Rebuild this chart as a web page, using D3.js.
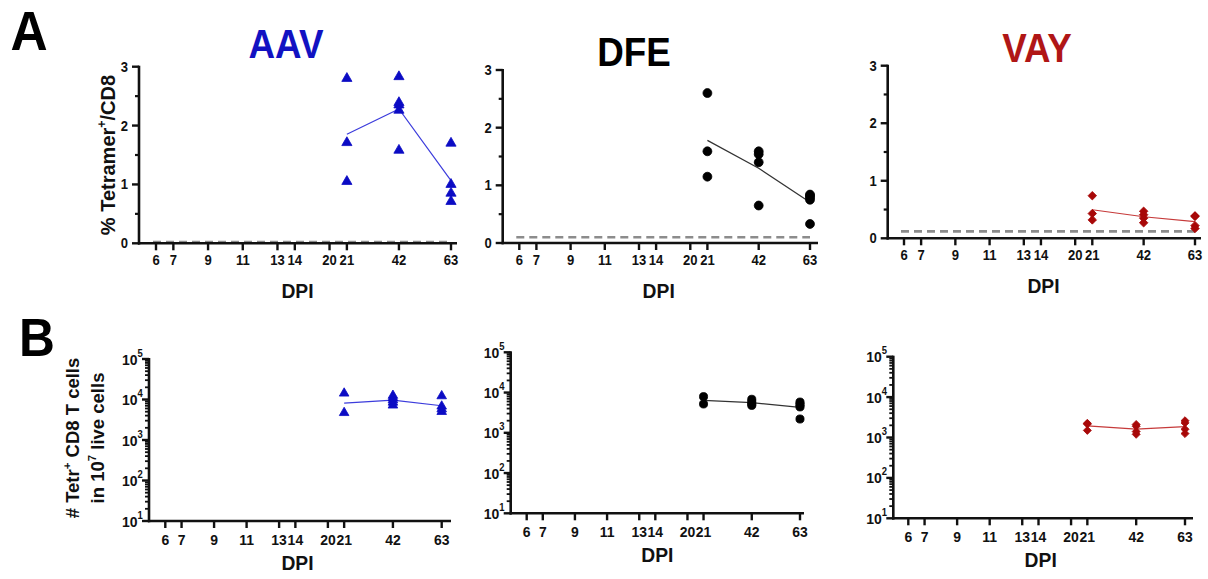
<!DOCTYPE html>
<html>
<head>
<meta charset="utf-8">
<script src="https://cdn.jsdelivr.net/npm/d3@7"></script>
<style>
body { margin: 0; background: #fff; }
text { font-family: "Liberation Sans", Arial, sans-serif; font-weight: bold; }
</style>
</head>
<body>
<svg id="fig" width="1208" height="579"></svg>
<script>
// tick labels on the DPI axis, and the days that were sampled
var days = [6, 7, 9, 11, 13, 14, 20, 21, 42, 63];
var sampleDays = [21, 42, 63];
var groups = ["AAV", "DFE", "VAY"];

// % Tetramer+/CD8, one list per sampled day
var aavPct = [[2.80, 1.71, 1.05], [2.83, 2.39, 2.35, 2.26, 1.58], [1.70, 1.00, 0.85, 0.71]];
var dfePct = [[2.60, 1.59, 1.15], [1.59, 1.54, 1.40, 0.65], [0.84, 0.82, 0.79, 0.75, 0.33]];
var vayPct = [[0.74, 0.43, 0.32], [0.47, 0.41, 0.35, 0.27], [0.39, 0.38, 0.22, 0.17]];
var pctBaseline = [0.02, 0.10, 0.12];

// # Tetr+ CD8 T cells in 10^7 live cells
var aavCount = [[14200, 4700], [12500, 11000, 9700, 8500, 7200], [12200, 6800, 5800, 5000]];
var dfeCount = [[7900, 5200], [6800, 5900, 5200, 4800], [5800, 5300, 4800, 4400, 2200]];
var vayCount = [[2250, 2150, 1500], [2100, 1900, 1400, 1200], [2600, 2300, 1600, 1250]];

var pctTicks = [0, 1, 2, 3];
var pctMinor = [0.5, 1.5, 2.5];
var logTicks = [1e1, 1e2, 1e3, 1e4, 1e5];

var svg = d3.select("#fig");

// spacing of the DPI ticks along the axis (in steps)
var daySteps = [0, 1, 3, 5, 7, 8, 10, 11, 14, 17];

function addText(g, x, y, s, size, opts) {
    opts = opts || {};
    var t = g.append("text")
        .attr("transform", "translate(" + x + "," + y + ")" + (opts.rot ? " rotate(" + opts.rot + ")" : "") + " scale(" + (opts.sx || 0.92) + ",1)")
        .attr("text-anchor", opts.anchor || "middle")
        .style("font-size", size + "px")
        .style("fill", opts.color || "#111");
    if (opts.sup) {
        t.append("tspan").text(s);
        t.append("tspan").attr("dy", -size * 0.45).style("font-size", (size * 0.62) + "px").text(opts.sup);
        if (opts.after) t.append("tspan").attr("dy", size * 0.45).text(opts.after);
    } else {
        t.text(s);
    }
    return t;
}

function drawPanel(p) {
    var g = svg.append("g");
    var step = (p.x63 - p.x6) / 17;
    var x = d3.scaleLinear().domain(days).range(daySteps.map(function (s) { return p.x6 + s * step; }));
    var y = p.log ? d3.scaleLog().domain([1e1, 1e5]).range([p.bottom, p.top])
                  : d3.scaleLinear().domain([0, 3]).range([p.bottom, p.top]);

    // dashed baseline (percent panels)
    if (p.base !== undefined) {
        g.append("line")
            .attr("x1", x(6) - 3).attr("x2", x(63))
            .attr("y1", y(p.base)).attr("y2", y(p.base))
            .attr("stroke", "#8c8c8c").attr("stroke-width", 2.6)
            .attr("stroke-dasharray", "8,5");
    }

    // x axis
    g.append("line").attr("x1", p.ax - 1).attr("x2", p.xEnd)
        .attr("y1", p.bottom).attr("y2", p.bottom)
        .attr("stroke", "#111").attr("stroke-width", 2.6);
    g.selectAll(".xt").data(days).enter().append("line")
        .attr("x1", function (d) { return x(d); }).attr("x2", function (d) { return x(d); })
        .attr("y1", p.bottom).attr("y2", p.bottom + 7)
        .attr("stroke", "#111").attr("stroke-width", 2.4);
    days.forEach(function (d) {
        addText(g, x(d), p.bottom + p.tickDy, String(d), p.tickSize, { sx: 0.9 });
    });
    addText(g, (p.x6 + p.x63) / 2 - 6, p.bottom + p.dpiDy, "DPI", 21, { sx: 0.92 });

    // y axis
    g.append("line").attr("x1", p.ax).attr("x2", p.ax)
        .attr("y1", p.top - 1).attr("y2", p.bottom + 1.3)
        .attr("stroke", "#111").attr("stroke-width", 2.6);
    var major = p.log ? logTicks : pctTicks;
    g.selectAll(".yt").data(major).enter().append("line")
        .attr("x1", p.ax - 7).attr("x2", p.ax)
        .attr("y1", function (d) { return y(d); }).attr("y2", function (d) { return y(d); })
        .attr("stroke", "#111").attr("stroke-width", 2.4);
    var minor = [];
    if (p.log) {
        for (var e = 1; e < 5; e++) for (var m = 2; m < 10; m++) minor.push(m * Math.pow(10, e));
    } else {
        minor = pctMinor;
    }
    g.selectAll(".ym").data(minor).enter().append("line")
        .attr("x1", p.ax - 4).attr("x2", p.ax)
        .attr("y1", function (d) { return y(d); }).attr("y2", function (d) { return y(d); })
        .attr("stroke", "#111").attr("stroke-width", p.log ? 1.8 : 2.2);
    major.forEach(function (d) {
        if (p.log) {
            addText(g, p.ax - 11.5, y(d) + 5.5, "10", 15.5, { anchor: "end", sx: 0.9 });
            addText(g, p.ax - 11.5, y(d) - 2.5, String(Math.round(Math.log10(d))), 10.5, { anchor: "start", sx: 0.9 });
        } else {
            addText(g, p.ax - 11, y(d) + 5, String(d), 14.5, { anchor: "end", sx: 0.9 });
        }
    });

    // mean line
    var centre = p.values.map(function (v, i) {
        var c = p.log ? Math.pow(10, d3.mean(v, function (a) { return Math.log10(a); })) : d3.mean(v);
        return [sampleDays[i], c];
    });
    g.append("path")
        .attr("d", d3.line().x(function (d) { return x(d[0]); }).y(function (d) { return y(d[1]); })(centre))
        .attr("fill", "none").attr("stroke", p.lineColor).attr("stroke-width", 1.2);

    // points
    var pts = [];
    p.values.forEach(function (v, i) {
        v.forEach(function (a) { pts.push([sampleDays[i], a]); });
    });
    var sym = d3.symbol().type(p.symbol).size(p.size);
    g.selectAll(".pt").data(pts).enter().append("path")
        .attr("d", sym)
        .attr("transform", function (d) {
            return "translate(" + x(d[0]) + "," + y(d[1]) + ")" + (p.symbol === d3.symbolSquare ? " rotate(45)" : "");
        })
        .attr("fill", p.color)
        .attr("stroke", p.color).attr("stroke-width", 0.8).attr("stroke-linejoin", "round");
}

var colors = ["#0b0bc4", "#000000", "#a80808"];
var lineColors = ["#3c3cdc", "#333333", "#c63a3a"];
var symbols = [d3.symbolTriangle, d3.symbolCircle, d3.symbolSquare];
var pctValues = [aavPct, dfePct, vayPct];
var countValues = [aavCount, dfeCount, vayCount];

var topPanels = [
    { ax: 139, top: 66.7, bottom: 243.3, x6: 156, x63: 451, xEnd: 457 },
    { ax: 502.7, top: 70, bottom: 243, x6: 519.3, x63: 810, xEnd: 818 },
    { ax: 887.7, top: 65.7, bottom: 238.3, x6: 904, x63: 1195, xEnd: 1201 }
];
var botPanels = [
    { ax: 149, top: 359, bottom: 521, x6: 165.3, x63: 441.7, xEnd: 451 },
    { ax: 510.7, top: 352.3, bottom: 513.3, x6: 526.7, x63: 800, xEnd: 804 },
    { ax: 893.3, top: 356.7, bottom: 518.3, x6: 908.3, x63: 1185, xEnd: 1193 }
];

groups.forEach(function (name, i) {
    var a = topPanels[i];
    a.values = pctValues[i]; a.base = pctBaseline[i]; a.log = false;
    a.color = colors[i]; a.lineColor = lineColors[i]; a.symbol = symbols[i];
    a.size = [45, 62, 36][i]; a.tickDy = 22; a.dpiDy = 55; a.tickSize = 14.5;
    drawPanel(a);
    var b = botPanels[i];
    b.values = countValues[i]; b.log = true;
    b.color = colors[i]; b.lineColor = lineColors[i]; b.symbol = symbols[i];
    b.size = [40, 52, 32][i]; b.tickDy = 24; b.dpiDy = 49; b.tickSize = 15.5;
    drawPanel(b);
});

// titles and panel letters
addText(svg, 286, 58, "AAV", 40, { color: "#1212c2" });
addText(svg, 634, 66, "DFE", 40, { color: "#000" });
addText(svg, 1037, 62, "VAY", 40, { color: "#b01616" });
addText(svg, 29, 50, "A", 56, { color: "#000" });
addText(svg, 37, 356, "B", 54, { color: "#000" });

// y axis titles
addText(svg, 115, 155, "% Tetramer", 20, { rot: -90, sx: 1, sup: "+", after: "/CD8" });
addText(svg, 79, 438, "# Tetr", 18.5, { rot: -90, sx: 1, sup: "+", after: " CD8 T cells" });
addText(svg, 104, 438, "in 10", 18.5, { rot: -90, sx: 1, sup: "7", after: " live cells" });
</script>
</body>
</html>
